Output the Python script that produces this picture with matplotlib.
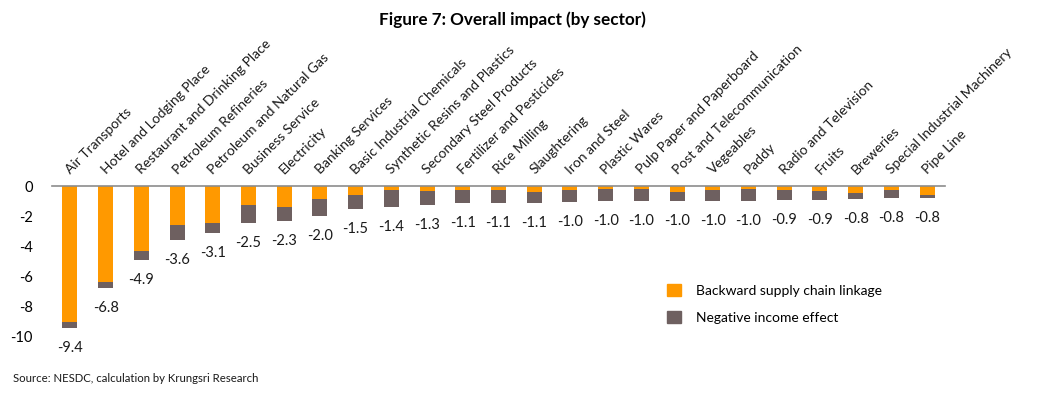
import matplotlib
matplotlib.use("Agg")
import matplotlib.pyplot as plt
from matplotlib.patches import Patch

plt.rcParams['font.family'] = ['Lato', 'DejaVu Sans']

sectors = ["Air Transports", "Hotel and Lodging Place", "Restaurant and Drinking Place",
           "Petroleum Refineries", "Petroleum and Natural Gas", "Business Service",
           "Electricity", "Banking Services", "Basic Industrial Chemicals",
           "Synthetic Resins and Plastics", "Secondary Steel Products",
           "Fertilizer and Pesticides", "Rice Milling", "Slaughtering", "Iron and Steel",
           "Plastic Wares", "Pulp Paper and Paperboard", "Post and Telecommunication",
           "Vegeables", "Paddy", "Radio and Television", "Fruits", "Breweries",
           "Special Industrial Machinery", "Pipe Line"]
backward = [9.0, 6.4, 4.3, 2.6, 2.45, 1.27, 1.4, 0.86, 0.6, 0.25, 0.31, 0.24, 0.24,
            0.4, 0.24, 0.18, 0.18, 0.38, 0.24, 0.18, 0.24, 0.31, 0.44, 0.24, 0.58]
income = [0.4, 0.4, 0.6, 1.0, 0.65, 1.2, 0.9, 1.1, 0.9, 1.13, 0.95, 0.89, 0.86,
          0.7, 0.8, 0.79, 0.79, 0.59, 0.73, 0.79, 0.67, 0.6, 0.4, 0.53, 0.19]
yticks = [0, -2, -4, -6, -8, -10]

ORANGE = "#FF9900"
GRAY = "#6E6060"

fig = plt.figure(figsize=(10.6, 3.93), dpi=100)
ax = fig.add_axes([52/1060, 1 - 336.7/393, (945-52)/1060, (336.7-186)/393])

x = list(range(len(sectors)))
neg_b = [-v for v in backward]
neg_i = [-v for v in income]
ax.bar(x, neg_b, width=0.42, color=ORANGE, zorder=2)
ax.bar(x, neg_i, width=0.42, bottom=neg_b, color=GRAY, zorder=2)

ax.set_xlim(-0.5, len(sectors) - 0.5)
ax.set_ylim(-10, 0)
ax.set_yticks(yticks)
ax.set_yticklabels([str(t) for t in yticks], fontsize=10.5)
ax.tick_params(axis='y', length=0, pad=14)
ax.set_xticks([])
for s in ['left', 'right', 'bottom']:
    ax.spines[s].set_visible(False)
ax.spines['top'].set_color('#8C8C8C')
ax.spines['top'].set_linewidth(1.2)

for i in x:
    tot = backward[i] + income[i]
    ax.annotate(f"{-tot:.1f}", xy=(i, -tot), xytext=(0, -20), textcoords='offset pixels',
                ha='center', va='center', fontsize=10.5, color='#1a1a1a', annotation_clip=False)
    ax.annotate(sectors[i], xy=(i, 0), xytext=(2, 10), textcoords='offset pixels',
                rotation=45, rotation_mode='anchor', ha='left', va='bottom',
                fontsize=10, color='#1a1a1a', annotation_clip=False)

handles = [Patch(color=ORANGE, label="Backward supply chain linkage"),
           Patch(color=GRAY, label="Negative income effect")]
fig.legend(handles=handles, loc='upper left', bbox_to_anchor=(667/1060, 1 - 284/393),
           bbox_transform=fig.transFigure, frameon=False, fontsize=10,
           handlelength=1.0, handleheight=1.0, handletextpad=1.1, labelspacing=1.0,
           borderpad=0, borderaxespad=0)

fig.text(512/1060, 1 - 19.5/393, "Figure 7: Overall impact (by sector)", ha='center', va='center',
         fontsize=12.3, fontweight='bold', color='black')
fig.text(13/1060, 1 - 378/393, "Source: NESDC, calculation by Krungsri Research", ha='left',
         va='center', fontsize=8.2, color='#1a1a1a')

fig.savefig("out.png", dpi=100)
